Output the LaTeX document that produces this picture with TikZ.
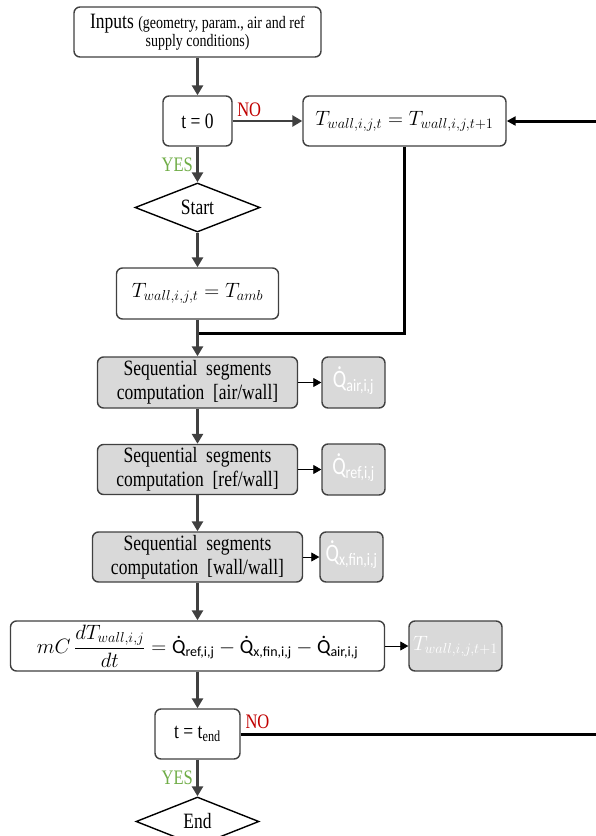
\documentclass[tikz,border=0pt]{standalone}
\usepackage{amsmath}
\usepackage{fontspec}
\setmainfont{Liberation Serif}
\newfontfamily\calfont{Carlito}
\usetikzlibrary{shapes.geometric,arrows.meta}

\definecolor{linegray}{RGB}{64,64,64}
\definecolor{boxfill}{RGB}{217,217,217}
\definecolor{nored}{RGB}{192,0,0}
\definecolor{yesgreen}{RGB}{112,173,71}

\newcommand{\qdot}[1]{\text{\calfont\ooalign{Q\cr\hidewidth\raisebox{0.72em}{.}\hidewidth\cr}}_{\text{\calfont #1}}}
\newcommand{\twall}[1]{T_{wall,i,j#1}}
\newcommand{\tall}[1]{\scalebox{1}[1.25]{#1}}

\begin{document}
\begin{tikzpicture}[x=1pt, y=-1pt,
    box/.style={draw=linegray, line width=1.4pt, rounded corners=6pt, fill=white,
      align=center, inner sep=1pt, font=\fontsize{17.5}{24}\selectfont},
    mathbox/.style={box, font=\fontsize{20}{24}\selectfont},
    shaded/.style={box, fill=boxfill},
    result/.style={shaded, text=white, font=\fontsize{20}{24}\selectfont},
    decision/.style={diamond, draw=black, line width=1.4pt, aspect=2.5,
      inner sep=0pt, font=\fontsize{17.5}{22}\selectfont},
    flow/.style={draw=linegray, line width=2.6pt, -{Triangle[length=10pt,width=11pt]}},
    feed/.style={draw=black, line width=3pt},
    side/.style={draw=black, line width=0.8pt, -{Triangle[length=8pt,width=9pt]}},
    nolabel/.style={text=nored, font=\fontsize{16.5}{18}\selectfont},
    yeslabel/.style={text=yesgreen, font=\fontsize{16.5}{18}\selectfont}]

  \useasboundingbox (0,0) rectangle (595,836);

  %%%%%%%%%%%%%%%%%%%%%%%%%%%%%%%%%%%%%%%%%%%%%%%%%
  % Start-up part
  \node[box, minimum width=247pt, minimum height=50pt, font=\fontsize{17.5}{18}\selectfont]
    (inputs) at (197.5,32)
    {\tall{Inputs {\fontsize{14}{15}\selectfont (geometry, param., air and ref}}\\
     \tall{\fontsize{14}{15}\selectfont supply conditions)}};
  \node[box, minimum width=69pt, minimum height=50pt] (tzero) at (197.5,121) {\tall{t = 0}};
  \node[mathbox, minimum width=203pt, minimum height=50pt] (twall) at (404.5,121)
    {$\twall{,t} = \twall{,t+1}$};
  \node[decision, minimum width=125pt, minimum height=49pt] (start) at (197.5,207.5) {\tall{Start}};
  \node[mathbox, minimum width=162pt, minimum height=51pt] (tamb) at (197.5,293.5)
    {$\twall{,t} = T_{amb}$};
  \coordinate (join) at (197.5,333);

  %%%%%%%%%%%%%%%%%%%%%%%%%%%%%%%%%%%%%%%%%%%%%%%%%
  % Segment computations
  \node[shaded, minimum width=200pt, minimum height=51pt] (seqair) at (197.5,382.5)
    {\tall{Sequential\ \ segments}\\\tall{computation\ \ [air/wall]}};
  \node[result, minimum width=63pt, minimum height=51pt] (qair) at (353.5,382.5)
    {\tall{$\qdot{air,i,j}$}};
  \node[shaded, minimum width=200pt, minimum height=50pt] (seqref) at (197.5,469.5)
    {\tall{Sequential\ \ segments}\\\tall{computation\ \ [ref/wall]}};
  \node[result, minimum width=63pt, minimum height=51pt] (qref) at (353.5,469.5)
    {\tall{$\qdot{ref,i,j}$}};
  \node[shaded, minimum width=210pt, minimum height=50pt] (seqfin) at (197.5,557)
    {\tall{Sequential\ \ segments}\\\tall{computation\ \ [wall/wall]}};
  \node[result, minimum width=63pt, minimum height=50pt, inner sep=0pt] (qfin) at (351.5,557)
    {\tall{$\qdot{x,fin,i,j}$}};

  %%%%%%%%%%%%%%%%%%%%%%%%%%%%%%%%%%%%%%%%%%%%%%%%%
  % Wall balance and time loop
  \node[mathbox, minimum width=374pt, minimum height=50pt] (balance) at (197.5,646)
    {$mC\,\dfrac{d\twall{}}{dt} = \qdot{ref,i,j} - \qdot{x,fin,i,j} - \qdot{air,i,j}$};
  \node[result, minimum width=93pt, minimum height=50pt] (twnext) at (455.5,646)
    {$\twall{,t+1}$};
  \node[box, minimum width=85pt, minimum height=50pt] (tend) at (197.5,734)
    {\tall{t = t\textsubscript{end}}};
  \node[decision, minimum width=123pt, minimum height=49pt] (finish) at (197.5,821.5) {\tall{End}};
  \coordinate (rim) at (604,0);

  % Main flow
  \draw[flow] (inputs) -- (tzero);
  \draw[flow] (tzero) -- (twall) node[nolabel, pos=0, above right] {\tall{NO}};
  \draw[flow] (tzero) -- (start) node[yeslabel, midway, left] {\tall{YES}};
  \draw[flow] (start) -- (tamb);
  \draw[feed] (twall.south) |- (join);
  \draw[flow] (tamb) -- (seqair);
  \draw[flow] (seqair) -- (seqref);
  \draw[flow] (seqref) -- (seqfin);
  \draw[flow] (seqfin) -- (balance);
  \draw[flow] (balance) -- (tend);
  \draw[flow] (tend) -- (finish) node[yeslabel, midway, left] {\tall{YES}};

  % Outputs of each step
  \draw[side] (seqair) -- (qair);
  \draw[side] (seqref) -- (qref);
  \draw[side] (seqfin) -- (qfin);
  \draw[side] (balance) -- (twnext);

  % Back to next time step
  \draw[feed, -{Triangle[length=9pt,width=9pt]}] (tend.east) node[nolabel, above right] {\tall{NO}}
    -- (tend.east -| rim) -- (twall.east -| rim) -- (twall.east);

\end{tikzpicture}
\end{document}
